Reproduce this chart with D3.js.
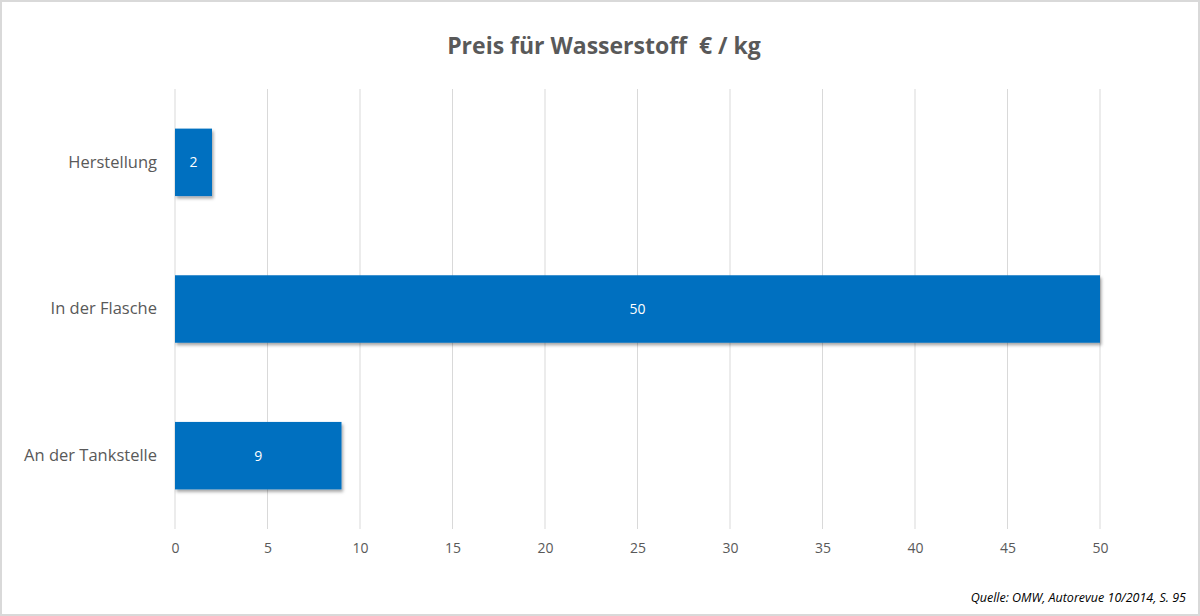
<!DOCTYPE html>
<html>
<head>
<meta charset="utf-8">
<script src="https://cdn.jsdelivr.net/npm/d3@7"></script>
<style>
  body { margin: 0; background: #fff; }
  svg { display: block; font-family: "Open Sans", sans-serif; }
</style>
</head>
<body>
<svg id="chart" width="1200" height="616"></svg>
<script>
const categories = ["Herstellung", "In der Flasche", "An der Tankstelle"];
const values = [2, 50, 9];
const xTicks = [0, 5, 10, 15, 20, 25, 30, 35, 40, 45, 50];
const title = "Preis für Wasserstoff  € / kg";
const source = "Quelle: OMW, Autorevue 10/2014, S. 95";

const svg = d3.select("#chart");
const width = 1200, height = 616;
const PADDING = { top: 89, right: 100, bottom: 87, left: 175 };

// chart border
svg.append("rect")
    .attr("x", 1).attr("y", 1)
    .attr("width", width - 2).attr("height", height - 2)
    .attr("fill", "#fff")
    .attr("stroke", "#d9d9d9")
    .attr("stroke-width", 2);

const defs = svg.append("defs");
const shadow = defs.append("filter").attr("id", "shadow")
    .attr("x", "-10%").attr("y", "-10%").attr("width", "120%").attr("height", "130%");
shadow.append("feDropShadow")
    .attr("dx", 1.5).attr("dy", 2.5).attr("stdDeviation", 1.5)
    .attr("flood-color", "#000").attr("flood-opacity", 0.35);

const xscale = d3.scaleLinear()
    .domain([0, 50])
    .range([PADDING.left, width - PADDING.right]);
const yscale = d3.scaleBand()
    .domain(categories)
    .range([PADDING.top, height - PADDING.bottom])
    .paddingInner(0.54)
    .paddingOuter(0.27);

// gridlines
svg.append("g")
    .selectAll("line")
    .data(xTicks)
    .join("line")
    .attr("x1", d => xscale(d)).attr("x2", d => xscale(d))
    .attr("y1", PADDING.top).attr("y2", height - PADDING.bottom)
    .attr("stroke", "#d9d9d9")
    .attr("stroke-width", 1);

// x axis
const xaxis = d3.axisBottom(xscale).tickValues(xTicks).tickSize(0).tickPadding(14);
const gx = svg.append("g")
    .attr("transform", `translate(0,${height - PADDING.bottom})`)
    .call(xaxis);
gx.select(".domain").remove();
gx.selectAll("text")
    .attr("fill", "#595959")
    .style("font-size", "14px")
    .style("font-family", "'Open Sans', sans-serif");

// y axis
const yaxis = d3.axisLeft(yscale).tickSize(0).tickPadding(18);
const gy = svg.append("g")
    .attr("transform", `translate(${PADDING.left},0)`)
    .call(yaxis);
gy.select(".domain").remove();
gy.selectAll("text")
    .attr("fill", "#595959")
    .style("font-size", "16.5px")
    .style("font-family", "'Open Sans', sans-serif");

// bars
svg.append("g")
    .selectAll("rect")
    .data(values)
    .join("rect")
    .attr("x", xscale(0))
    .attr("y", (d, i) => yscale(categories[i]))
    .attr("width", d => xscale(d) - xscale(0))
    .attr("height", yscale.bandwidth())
    .attr("fill", "#0070c0")
    .attr("filter", "url(#shadow)");

// value labels
svg.append("g")
    .selectAll("text")
    .data(values)
    .join("text")
    .attr("x", d => (xscale(0) + xscale(d)) / 2)
    .attr("y", (d, i) => yscale(categories[i]) + yscale.bandwidth() / 2)
    .attr("dy", "0.35em")
    .attr("text-anchor", "middle")
    .attr("fill", "#fff")
    .style("font-size", "14px")
    .text(d => d);

// title
svg.append("text")
    .attr("x", 604).attr("y", 54)
    .attr("text-anchor", "middle")
    .attr("fill", "#595959")
    .style("font-size", "23px")
    .style("font-weight", "bold")
    .style("white-space", "pre")
    .text(title);

// source
svg.append("text")
    .attr("x", 1186).attr("y", 602)
    .attr("text-anchor", "end")
    .attr("fill", "#000")
    .style("font-size", "12.5px")
    .style("font-style", "italic")
    .text(source);
</script>
</body>
</html>
